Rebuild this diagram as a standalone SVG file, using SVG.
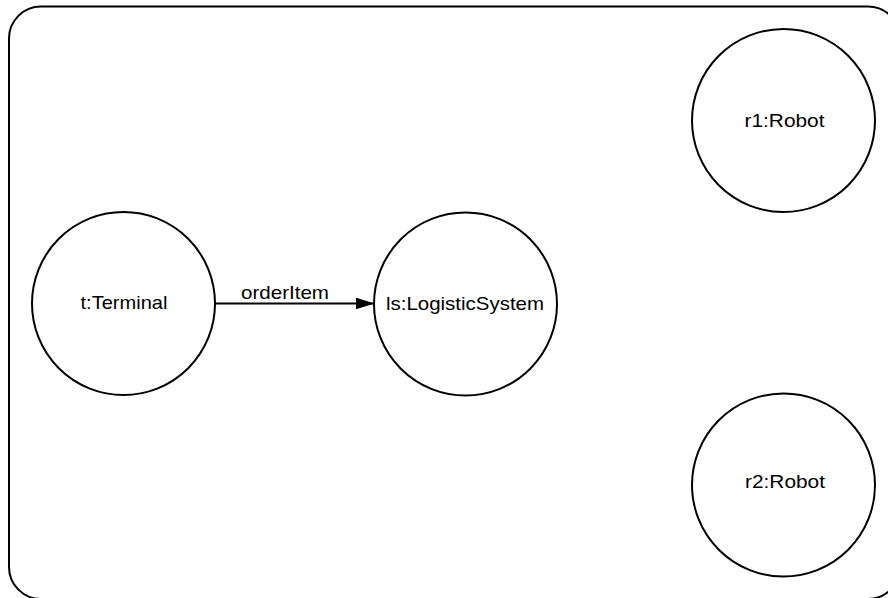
<svg xmlns="http://www.w3.org/2000/svg" width="888" height="598" viewBox="0 0 888 598">
  <style>
    .frame { fill: none; stroke: #000; stroke-width: 2; }
    .node circle { fill: #fff; stroke: #000; stroke-width: 2; }
    .node text, .label { font-family: "Liberation Sans", Arial, sans-serif; font-size: 18.5px; fill: #000; text-anchor: middle; }
    .edge { fill: none; stroke: #000; stroke-width: 2; }
  </style>
  <defs>
    <marker id="arrow" viewBox="0 0 19 12" refX="19" refY="6" markerWidth="19" markerHeight="12" markerUnits="userSpaceOnUse" orient="auto">
      <path d="M0,0 L19,6 L0,12 Z" fill="#000"/>
    </marker>
  </defs>

  <!-- system boundary -->
  <rect class="frame" x="9" y="6.5" width="891" height="592.5" rx="32" ry="32"/>

  <g id="connectors">
    <line class="edge" x1="215" y1="303.5" x2="374.5" y2="303.5" marker-end="url(#arrow)"/>
    <text class="label" x="285" y="299" textLength="88" lengthAdjust="spacingAndGlyphs">orderItem</text>
  </g>

  <g id="terminal" class="node">
    <circle cx="123.5" cy="303.5" r="91.5"/>
    <text x="124" y="309" textLength="87" lengthAdjust="spacingAndGlyphs">t:Terminal</text>
  </g>

  <g id="logistic-system" class="node">
    <circle cx="465.5" cy="304" r="91.5"/>
    <text x="465" y="309.5" textLength="158" lengthAdjust="spacingAndGlyphs">ls:LogisticSystem</text>
  </g>

  <g id="robot1" class="node">
    <circle cx="783.5" cy="120.5" r="91.5"/>
    <text x="784.5" y="126.5" textLength="80" lengthAdjust="spacingAndGlyphs">r1:Robot</text>
  </g>

  <g id="robot2" class="node">
    <circle cx="783.5" cy="485" r="91.5"/>
    <text x="785" y="488" textLength="80" lengthAdjust="spacingAndGlyphs">r2:Robot</text>
  </g>
</svg>
